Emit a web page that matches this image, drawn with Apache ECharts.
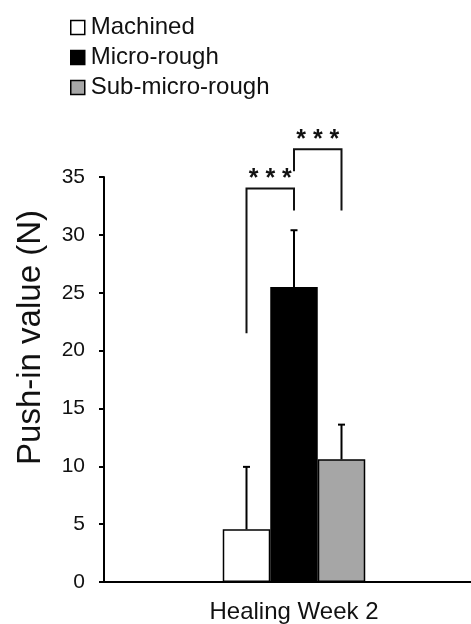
<!DOCTYPE html>
<html>
<head>
<meta charset="utf-8">
<style>
  html, body { margin: 0; padding: 0; background: #fff; }
  #chart { width: 471px; height: 624px; }
</style>
<script src="https://cdn.jsdelivr.net/npm/echarts@6/dist/echarts.min.js"></script>
</head>
<body>
<div id="chart"></div>
<script>
var categories = ['Healing Week 2']
var groupNames = ['Machined', 'Micro-rough', 'Sub-micro-rough']
var groupColors = ['#ffffff', '#000000', '#a6a6a6']
var means = [4.55, 25.5, 10.6]
var sds = [5.4, 4.9, 3.0]
// [from group, to group, bracket top, left leg end, right leg end, label]
var brackets = [
  [0, 1, 34.0, 21.5, 32.1, '* * *'],
  [1, 2, 37.4, 35.5, 32.1, '* * *']
]

var barFrac = 0.125

var myChart = echarts.init(document.getElementById('chart'), null, { renderer: 'canvas' })

var barSeries = groupNames.map(function(name, i) {
  return {
    name: name,
    type: 'bar',
    data: [means[i]],
    barWidth: (barFrac * 100) + '%',
    barGap: '0%',
    itemStyle: {
      color: groupColors[i],
      borderColor: '#000',
      borderWidth: 1.5
    },
    z: 2
  }
})

var errData = means.map(function(m, i) {
  return [0, i, m, sds[i]]
})

var bracketData = brackets.map(function(b) {
  return [0, b[0], b[1], b[2], b[3], b[4], b[5]]
})

function groupX(api, gi) {
  var c = api.coord([0, 0])
  var band = api.size([1, 0])[0]
  return c[0] + (gi - 1) * band * barFrac
}

var option = {
  animation: false,
  backgroundColor: '#fff',
  textStyle: { fontFamily: 'Liberation Sans, Arial, sans-serif' },
  legend: {
    orient: 'vertical',
    left: 65,
    top: 10,
    itemWidth: 14,
    itemHeight: 14,
    itemGap: 5,
    icon: 'rect',
    data: groupNames,
    itemStyle: { borderColor: '#000', borderWidth: 1.5 },
    textStyle: { fontSize: 24, color: '#111', lineHeight: 25, padding: [0, 0, 0, 1] }
  },
  grid: {
    left: 104,
    right: -13,
    top: 177,
    bottom: 42,
    outerBoundsMode: 'none'
  },
  xAxis: {
    type: 'category',
    data: categories,
    axisLine: { lineStyle: { color: '#000', width: 2 } },
    axisTick: { show: false },
    axisLabel: { fontSize: 24, color: '#111', margin: 18 }
  },
  yAxis: {
    type: 'value',
    min: 0,
    max: 35,
    interval: 5,
    name: 'Push-in value (N)',
    nameLocation: 'middle',
    nameGap: 57,
    nameTextStyle: { fontSize: 33, color: '#111', padding: [0, 0, 0, 84] },
    axisLine: { show: true, lineStyle: { color: '#000', width: 2 } },
    axisTick: { show: true, length: 5, lineStyle: { color: '#000', width: 2 } },
    axisLabel: { fontSize: 21, color: '#111', margin: 19 },
    splitLine: { show: false }
  },
  series: barSeries.concat([
    {
      type: 'custom',
      name: 'error',
      data: errData,
      encode: { x: 0, y: 2 },
      z: 3,
      renderItem: function(params, api) {
        var x = groupX(api, api.value(1))
        var y0 = api.coord([0, api.value(2)])[1]
        var y1 = api.coord([0, api.value(2) + api.value(3)])[1]
        var style = { stroke: '#000', lineWidth: 2 }
        return {
          type: 'group',
          children: [
            { type: 'line', shape: { x1: x, y1: y0, x2: x, y2: y1 }, style: style },
            { type: 'line', shape: { x1: x - 3.5, y1: y1, x2: x + 3.5, y2: y1 }, style: style }
          ]
        }
      }
    },
    {
      type: 'custom',
      name: 'sig',
      data: bracketData,
      encode: { x: 0, y: 3 },
      clip: false,
      z: 3,
      renderItem: function(params, api) {
        var xa = groupX(api, api.value(1))
        var xb = groupX(api, api.value(2))
        var yt = api.coord([0, api.value(3)])[1]
        var ya = api.coord([0, api.value(4)])[1]
        var yb = api.coord([0, api.value(5)])[1]
        return {
          type: 'group',
          children: [
            {
              type: 'polyline',
              shape: { points: [[xa, ya], [xa, yt], [xb, yt], [xb, yb]] },
              style: { stroke: '#111', lineWidth: 2, fill: null }
            },
            {
              type: 'text',
              style: {
                x: (xa + xb) / 2,
                y: yt - 9,
                text: bracketData[params.dataIndex][6],
                fontSize: 25,
                fontWeight: 'bold',
                fontFamily: 'Liberation Sans, Arial, sans-serif',
                fill: '#111',
                align: 'center',
                verticalAlign: 'middle'
              }
            }
          ]
        }
      }
    }
  ])
}

option && myChart.setOption(option)
</script>
</body>
</html>
